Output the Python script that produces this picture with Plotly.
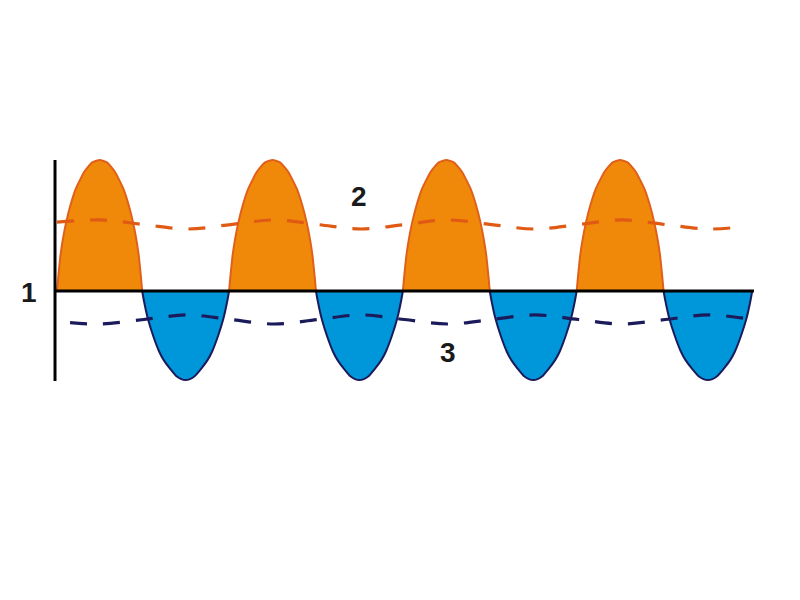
import plotly.graph_objects as go

# zero crossings of the wave, in half-period units
crossings = [0, 0.98, 1.98, 2.98, 3.98, 4.98, 5.98, 6.98, 8.0]

# shape of one positive (orange) lobe: position across lobe -> height
pos_t = [0, 0.015, 0.04, 0.07, 0.106, 0.16, 0.22, 0.32, 0.41, 0.5,
         0.59, 0.68, 0.78, 0.84, 0.894, 0.93, 0.96, 0.985, 1]
pos_h = [0, 0.11, 0.27, 0.40, 0.52, 0.66, 0.78, 0.91, 0.98, 1.0,
         0.98, 0.91, 0.78, 0.66, 0.52, 0.40, 0.27, 0.11, 0]

# shape of one negative (blue) lobe
neg_t = [0, 0.02, 0.065, 0.125, 0.195, 0.25, 0.32, 0.4, 0.45, 0.5,
         0.55, 0.6, 0.68, 0.75, 0.805, 0.875, 0.935, 0.98, 1]
neg_h = [0, -0.075, -0.211, -0.34, -0.462, -0.53, -0.592, -0.653, -0.673, -0.68,
         -0.673, -0.653, -0.592, -0.53, -0.462, -0.34, -0.211, -0.075, 0]

# dashed mean lines
orange_x = [0, 0.5, 1, 1.5, 2, 2.5, 3, 3.5, 4, 4.5, 5, 5.5, 6, 6.5, 7, 7.5, 7.88]
orange_y = [0.525, 0.542, 0.507, 0.473, 0.507, 0.542, 0.507, 0.473, 0.507,
            0.542, 0.507, 0.473, 0.507, 0.542, 0.507, 0.473, 0.49]
navy_x = [0.15, 0.5, 1, 1.5, 2, 2.5, 3, 3.5, 4, 4.5, 5, 5.5, 6, 6.5, 7, 7.5, 8.03]
navy_y = [-0.242, -0.252, -0.218, -0.183, -0.218, -0.252, -0.218, -0.183, -0.218,
          -0.252, -0.218, -0.183, -0.218, -0.252, -0.218, -0.183, -0.221]

labels = ["1", "2", "3"]
label_x = [-0.32, 3.475, 4.5]
label_y = [-0.015, 0.718, -0.473]

ORANGE = "#f0890a"
ORANGE_EDGE = "#e0601a"
BLUE = "#0096da"
NAVY = "#1b1b5c"

fig = go.Figure()

for i in range(len(crossings) - 1):
    a, b = crossings[i], crossings[i + 1]
    if i % 2 == 0:
        ts, hs, fc, lc = pos_t, pos_h, ORANGE, ORANGE_EDGE
    else:
        ts, hs, fc, lc = neg_t, neg_h, BLUE, NAVY
    fig.add_trace(go.Scatter(
        x=[a + t * (b - a) for t in ts], y=hs,
        mode="lines", fill="toself", fillcolor=fc,
        line=dict(color=lc, width=2, shape="spline", smoothing=0.4),
        hoverinfo="skip", showlegend=False))

fig.add_trace(go.Scatter(x=orange_x, y=orange_y, mode="lines",
                         line=dict(color="#e05a14", width=3.2, dash="17px,16px",
                                   shape="spline"),
                         showlegend=False))
fig.add_trace(go.Scatter(x=navy_x, y=navy_y, mode="lines",
                         line=dict(color=NAVY, width=3.2, dash="17px,16px",
                                   shape="spline"),
                         showlegend=False))

# baseline and vertical axis
fig.add_trace(go.Scatter(x=[-0.023, 8.02], y=[0, 0], mode="lines",
                         line=dict(color="black", width=3), showlegend=False))
fig.add_trace(go.Scatter(x=[-0.023, -0.023], y=[1.0, -0.687], mode="lines",
                         line=dict(color="black", width=3), showlegend=False))

for txt, lx, ly in zip(labels, label_x, label_y):
    fig.add_annotation(x=lx, y=ly, text="<b>" + txt + "</b>", showarrow=False,
                       font=dict(family="Liberation Sans, Arial", size=28,
                                 color="#1a1a1a"))

# page sits 8px in from the window corner, so ranges are shifted to match
fig.update_layout(
    width=800, height=600, autosize=False,
    margin=dict(l=0, r=0, t=0, b=0),
    plot_bgcolor="white", paper_bgcolor="white",
    xaxis=dict(range=[-0.564, 8.642], visible=False),
    yaxis=dict(range=[-2.420, 2.160], visible=False),
)

fig.write_html("out.html")
